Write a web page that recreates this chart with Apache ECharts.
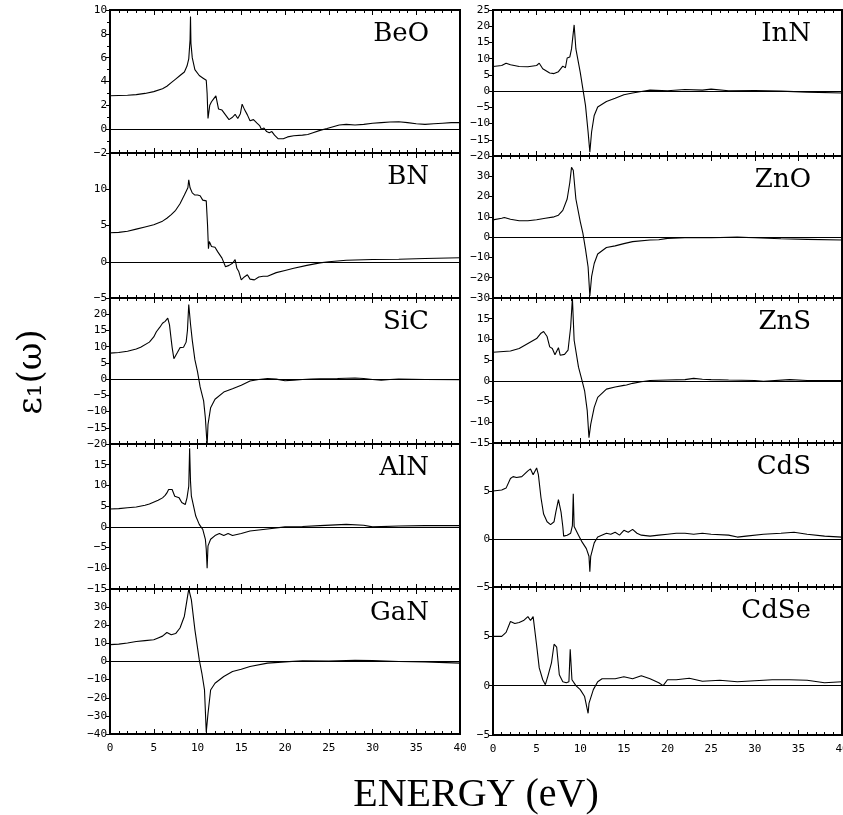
<!DOCTYPE html>
<html><head><meta charset="utf-8">
<script src="https://cdn.jsdelivr.net/npm/echarts@6/dist/echarts.min.js"></script>
<style>html,body{margin:0;padding:0;background:#fff}#c{width:843px;height:815px}</style>
</head><body><div id="c"></div>
<script>
// ---- data: [energy (eV), epsilon_1] ----
const BeO = [[0,2.8],[2,2.85],[3,2.9],[4,3.0],[5,3.15],[6,3.4],[6.5,3.6],[7,3.9],[7.5,4.2],[8,4.5],[8.5,4.8],[8.8,5.3],[9.0,5.9],[9.15,7.5],[9.2,9.45],[9.25,7.2],[9.4,6.0],[9.7,5.0],[10.2,4.5],[10.6,4.3],[11.0,4.1],[11.1,3.0],[11.2,0.9],[11.4,2.0],[11.6,2.3],[11.8,2.5],[12.1,2.8],[12.4,1.7],[12.8,1.6],[13.2,1.2],[13.6,0.8],[14.0,1.0],[14.3,1.25],[14.6,0.9],[14.9,1.3],[15.0,1.7],[15.1,2.1],[15.4,1.6],[15.7,1.2],[16.0,0.7],[16.4,0.8],[16.8,0.5],[17.1,0.3],[17.3,0],[17.6,0.1],[17.9,-0.2],[18.2,-0.3],[18.5,-0.2],[18.8,-0.5],[19.2,-0.8],[19.8,-0.8],[20.3,-0.65],[21.0,-0.55],[22.0,-0.5],[22.6,-0.45],[23.2,-0.3],[24.0,-0.1],[24.8,0.05],[25.5,0.2],[26.2,0.35],[27.0,0.4],[28.0,0.35],[29.0,0.4],[30.0,0.5],[31.0,0.55],[32.0,0.6],[33.0,0.62],[34.0,0.55],[35.0,0.45],[36.0,0.4],[37.0,0.45],[38.0,0.5],[39.0,0.55],[40.0,0.55]];
const BN = [[0,4.0],[1,4.05],[2,4.2],[3,4.5],[4,4.8],[5,5.1],[6,5.6],[6.5,6.0],[7,6.5],[7.5,7.1],[8,8.0],[8.5,9.2],[8.9,10.2],[9.0,11.3],[9.15,10.2],[9.4,9.5],[9.7,9.2],[10.0,9.2],[10.3,9.1],[10.6,8.5],[10.8,8.6],[11.0,8.4],[11.15,5.0],[11.25,1.8],[11.35,2.8],[11.6,2.1],[12.0,2.0],[12.3,1.4],[12.8,0.5],[13.2,-0.7],[13.6,-0.5],[14.0,-0.2],[14.3,0.3],[14.5,-0.9],[14.7,-1.3],[15.0,-2.5],[15.35,-2.1],[15.7,-1.8],[16.0,-2.4],[16.5,-2.5],[17.0,-2.1],[17.5,-2.0],[18.0,-2.0],[19.0,-1.5],[20.0,-1.2],[21.0,-0.9],[22.5,-0.5],[24.0,-0.15],[25.0,0],[27.0,0.2],[28.0,0.25],[30.0,0.3],[33.0,0.35],[36.0,0.45],[40.0,0.55]];
const SiC = [[0,8.0],[1,8.2],[2,8.6],[3,9.3],[3.5,9.8],[4.5,11.4],[5.0,13.0],[5.3,14.6],[5.7,16.0],[6.0,17.2],[6.3,17.8],[6.6,18.8],[6.8,16.7],[7.0,12.0],[7.1,9.8],[7.3,6.3],[7.7,8.2],[8.0,9.7],[8.4,9.8],[8.7,11.4],[8.85,15.0],[9.0,23.0],[9.2,17.0],[9.4,12.0],[9.7,6.0],[10.0,2.3],[10.3,-2.4],[10.7,-6.7],[10.9,-12.0],[11.1,-20.5],[11.2,-14.0],[11.5,-8.8],[12.0,-6.2],[13.0,-4.0],[14.0,-3.0],[15.0,-1.9],[16.0,-0.6],[17.0,-0.1],[18.0,0.2],[19.0,0],[20.0,-0.5],[21.0,-0.3],[22,-0.1],[23.0,0],[24,0.1],[26.0,0.2],[28.0,0.35],[29,0.2],[30.0,-0.1],[31.0,-0.3],[32,-0.1],[33.0,0],[36.0,-0.1],[40.0,-0.2]];
const AlN = [[0,4.3],[1,4.4],[2,4.6],[3,4.8],[4,5.2],[4.5,5.5],[5.5,6.4],[6.0,7.0],[6.3,7.6],[6.5,8.2],[6.7,9.0],[7.1,9.0],[7.4,7.4],[7.9,7.0],[8.2,5.9],[8.6,5.4],[8.8,7.0],[9.0,9.8],[9.1,19.0],[9.2,11.0],[9.3,7.4],[9.8,2.6],[10.2,0.6],[10.6,-0.6],[10.9,-3.0],[11.0,-5.4],[11.1,-10.0],[11.2,-4.6],[11.5,-3.0],[12.0,-2.1],[12.5,-1.6],[13.0,-2.1],[13.5,-1.6],[14.0,-2.1],[15.0,-1.6],[16.0,-1.0],[18.0,-0.5],[20.0,0],[22,0.1],[24.0,0.3],[27.0,0.6],[29.0,0.4],[30.0,0],[33.0,0.2],[36.0,0.3],[40.0,0.3]];
const GaN = [[0,9.3],[1,9.6],[2,10.2],[3,11.0],[4,11.5],[5,12.0],[5.5,13.0],[6.0,14.0],[6.5,16.0],[7.0,14.8],[7.5,15.4],[8.0,18.5],[8.5,25.0],[8.8,34.0],[9.0,40.0],[9.3,34.0],[9.7,17.6],[10.2,1.0],[10.5,-6.5],[10.8,-15.7],[11.0,-39.0],[11.2,-28.7],[11.5,-15.7],[12.0,-12.0],[13.0,-8.3],[14.0,-5.5],[15.0,-4.3],[16.0,-2.8],[18.0,-0.9],[20.0,-0.2],[22.0,0.4],[25.0,0.2],[28.0,0.6],[30.0,0.5],[33.0,0],[36.0,-0.2],[40.0,-0.9]];
const InN = [[0,7.6],[1,7.9],[1.5,8.6],[2,8.1],[3,7.6],[4,7.5],[5,7.9],[5.3,8.6],[5.7,6.9],[6.5,5.6],[7.0,5.4],[7.5,6.0],[8.0,7.7],[8.3,7.2],[8.5,10.2],[8.8,10.5],[9.0,13.0],[9.3,20.4],[9.5,13.0],[10.0,5.8],[10.3,0.7],[10.6,-4.4],[10.9,-12.6],[11.1,-18.8],[11.3,-12.6],[11.6,-7.5],[12.0,-4.9],[13.0,-3.2],[14.0,-2.2],[15.0,-1.1],[16.0,-0.6],[17.0,-0.1],[18.0,0.3],[20.0,0.1],[22.0,0.5],[24.0,0.3],[25.0,0.6],[27.0,0.1],[30.0,0.2],[33.0,0],[36.0,-0.3],[40.0,-0.6]];
const ZnO = [[0,8.5],[1,9.3],[1.3,9.7],[2,8.8],[3,8.1],[4,8.1],[5,8.6],[6,9.3],[7,10.0],[7.5,10.8],[8.0,13.2],[8.5,18.8],[8.8,26.8],[9.0,34.4],[9.2,33.0],[9.5,18.8],[10.0,7.7],[10.3,2.0],[10.6,-5.9],[10.9,-14.7],[11.1,-29.0],[11.3,-19.5],[11.6,-13.0],[12.0,-8.3],[13.0,-5.1],[14.0,-4.3],[15.0,-3.2],[16.0,-2.2],[18.0,-1.4],[19.0,-1.3],[20.0,-0.6],[22.0,-0.3],[25.0,-0.3],[28.0,0],[30.0,-0.3],[33.0,-0.8],[36.0,-1.1],[40.0,-1.4]];
const ZnS = [[0,6.9],[2,7.2],[3,7.8],[4,9.0],[5,10.2],[5.5,11.5],[5.8,11.9],[6.2,10.7],[6.5,8.2],[6.8,7.8],[7.1,6.3],[7.5,8.0],[7.7,6.2],[8.2,6.4],[8.6,7.4],[8.9,13.0],[9.1,20.0],[9.3,9.8],[9.8,3.3],[10.2,0.1],[10.5,-2.4],[10.8,-7.2],[11.0,-13.7],[11.2,-10.5],[11.6,-6.4],[12.0,-4.0],[13.0,-2.0],[14.0,-1.5],[15.0,-1.1],[15.2,-0.7],[15.3,-1.0],[16.0,-0.6],[17.0,-0.2],[18.0,0.1],[20.0,0.2],[22.0,0.3],[23.0,0.6],[24.0,0.4],[25.0,0.3],[27.0,0.2],[30.0,0.1],[31.0,-0.1],[34.0,0.3],[36.0,0.1],[40.0,0.1]];
const CdS = [[0,5.0],[1,5.1],[1.5,5.3],[2,6.3],[2.3,6.5],[2.7,6.4],[3.3,6.5],[4.0,7.1],[4.3,7.3],[4.6,6.7],[5.0,7.4],[5.2,6.7],[5.5,4.3],[5.8,2.6],[6.2,1.8],[6.6,1.5],[7.0,1.8],[7.2,2.8],[7.5,4.1],[7.8,2.8],[8.0,1.3],[8.1,0.3],[8.5,0.4],[8.9,0.6],[9.1,1.4],[9.2,4.7],[9.3,1.3],[9.8,0.4],[10.2,-0.3],[10.7,-1.0],[11.0,-1.8],[11.1,-3.4],[11.2,-1.8],[11.6,-0.4],[12.0,0.2],[13.0,0.6],[13.5,0.5],[14.0,0.7],[14.5,0.4],[15.0,0.9],[15.5,0.7],[16.0,1.0],[16.5,0.6],[17.0,0.4],[18.0,0.3],[19.0,0.4],[20.0,0.5],[21.0,0.6],[22.0,0.6],[23.0,0.5],[24.0,0.6],[25.0,0.5],[27.0,0.4],[28.0,0.2],[29.0,0.3],[31.0,0.5],[33.0,0.6],[34.5,0.7],[36.0,0.5],[38.0,0.3],[40.0,0.2]];
const CdSe = [[0,5.0],[1,5.0],[1.5,5.4],[2,6.5],[2.5,6.3],[3,6.4],[3.5,6.6],[4,7.0],[4.3,6.6],[4.6,7.0],[5.0,4.1],[5.3,1.8],[5.7,0.6],[6.0,0.1],[6.3,1.0],[6.7,2.3],[7.0,4.2],[7.3,3.9],[7.6,1.1],[8.0,0.4],[8.4,0.3],[8.7,0.4],[8.85,3.7],[9.05,0.6],[9.5,0],[10.0,-0.4],[10.5,-1.1],[10.9,-2.8],[11.0,-1.8],[11.5,-0.4],[12.0,0.4],[12.5,0.7],[14.0,0.7],[15.0,0.9],[16.0,0.7],[17.0,1.0],[18.0,0.7],[19.0,0.3],[19.5,0],[20.0,0.6],[21.0,0.6],[22.0,0.7],[22.5,0.75],[24.0,0.45],[26.0,0.55],[28.0,0.4],[30.0,0.5],[32.0,0.6],[34.0,0.6],[36.0,0.55],[38.0,0.3],[40.0,0.4]];

const names = ['BeO','BN','SiC','AlN','GaN','InN','ZnO','ZnS','CdS','CdSe'];
const datasets = [BeO,BN,SiC,AlN,GaN,InN,ZnO,ZnS,CdS,CdSe];
const yMin = [-2,-5,-20,-15,-40,-20,-30,-15,-5,-5];
const yMax = [10,15,25,20,40,25,40,20,10,10];
const yStep = [2,5,5,5,10,5,10,5,5,5];
const xTicks = [0,40,5];
const xTitle = 'ENERGY (eV)';

// ---- layout ----
const colLeft = [110, 493];
const colWidth = [350, 349];
const tops = [[10,153,298,444,589],[10,156,298,443,587]];
const bottomY = [734, 735];

const chart = echarts.init(document.getElementById('c'), null, {renderer:'canvas'});
const grids=[], xAxes=[], yAxes=[], series=[], graphics=[];
const tickFont = {color:'#000', fontFamily:'DejaVu Sans Mono', fontSize:11};
names.forEach((nm,i)=>{
  const col = i<5?0:1, row = i%5;
  const top = tops[col][row];
  const bottom = row<4 ? tops[col][row+1] : bottomY[col];
  grids.push({left:colLeft[col], top:top, width:colWidth[col], height:bottom-top,
    containLabel:false, outerBoundsMode:'none',
    show:true, borderColor:'#000', borderWidth:2, backgroundColor:'transparent'});
  const isBottom = row===4;
  const xBase = {gridIndex:i, type:'value', min:xTicks[0], max:xTicks[1], interval:xTicks[2],
    axisLine:{show:true, onZero:false, lineStyle:{color:'#000', width:2}},
    axisTick:{show:true, inside:true, length:5, lineStyle:{color:'#000', width:1}},
    minorTick:{show:true, splitNumber:5, length:3, lineStyle:{color:'#000', width:1}},
    splitLine:{show:false}};
  xAxes.push(Object.assign({}, xBase, {position:'bottom',
    axisLabel:{show:isBottom, margin:9, hideOverlap:false, ...tickFont}}));
  xAxes.push(Object.assign({}, xBase, {position:'top', axisLabel:{show:false}}));
  yAxes.push({gridIndex:i, type:'value', min:yMin[i], max:yMax[i], interval:yStep[i], position:'left',
    axisLine:{show:true, onZero:false, lineStyle:{color:'#000', width:2}},
    axisTick:{show:true, inside:false, length:4, lineStyle:{color:'#000', width:1}},
    minorTick:{show: yStep[i]===2, splitNumber:2, length:3, lineStyle:{color:'#000', width:1}},
    splitLine:{show:false},
    axisLabel:{show:true, margin:3, showMaxLabel: row===0, showMinLabel:true, hideOverlap:false,
      formatter: v => String(v).replace('-', '\u2212'), ...tickFont}});
  series.push({type:'line', xAxisIndex:2*i, yAxisIndex:i, data:datasets[i],
    showSymbol:false, symbol:'none', animation:false, clip:true,
    lineStyle:{color:'#000', width:1.1},
    markLine:{silent:true, symbol:'none', animation:false, label:{show:false},
      lineStyle:{color:'#000', width:1, type:'solid'}, data:[{yAxis:0}]}});
  graphics.push({type:'text', x:colLeft[col]+colWidth[col]-31, y:top+24,
    style:{text:nm, fill:'#000', font:'26px "DejaVu Serif"', textAlign:'right', textVerticalAlign:'middle'}});
});
graphics.push({type:'text', x:476, y:795,
  style:{text:xTitle, fill:'#000', font:'40px "Liberation Serif"', textAlign:'center', textVerticalAlign:'middle'}});
graphics.push({type:'text', x:32, y:372, rotation:Math.PI/2,
  style:{text:'\u03b5\u2081(\u03c9)', fill:'#000', font:'34px "DejaVu Serif"', textAlign:'center', textVerticalAlign:'middle'}});

chart.setOption({animation:false, backgroundColor:'#fff', grid:grids, xAxis:xAxes, yAxis:yAxes, series:series, graphic:graphics});
</script></body></html>
